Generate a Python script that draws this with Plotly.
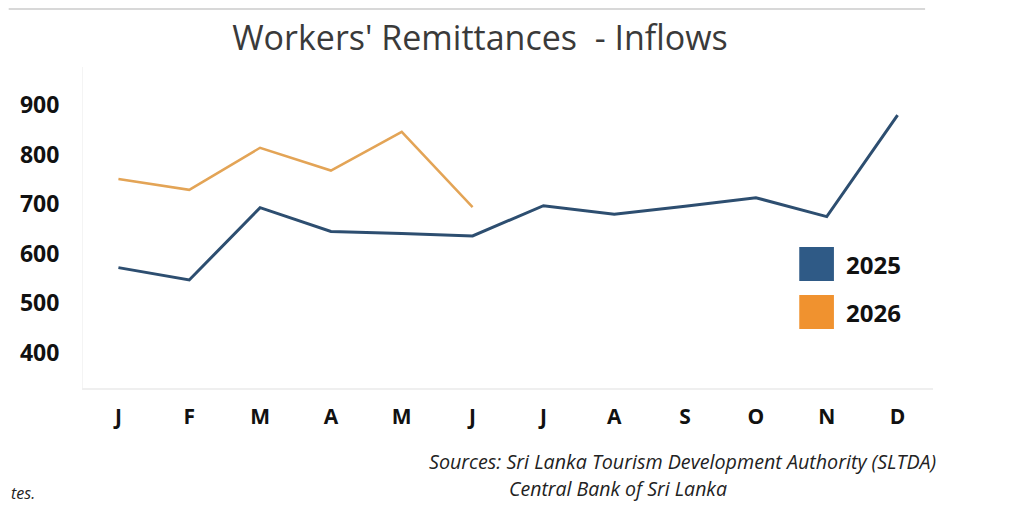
import plotly.graph_objects as go

# data
months = ['J', 'F', 'M', 'A', 'M ', 'J ', 'J  ', 'A ', 'S', 'O', 'N', 'D']
month_labels = ['J', 'F', 'M', 'A', 'M', 'J', 'J', 'A', 'S', 'O', 'N', 'D']
remit_2025 = [572, 547, 693, 645, 641, 636, 697, 680, 696, 713, 675, 880]
remit_2026 = [751, 729, 814, 768, 846, 694]
y_ticks = [400, 500, 600, 700, 800, 900]

blue = '#2d4e70'
orange = '#e3a456'

# page offset of the plot div (browser body margin)
OFF = 8
W, H = 1017, 511
L, R, T, B = 75 - OFF, W - (933 - OFF), 67 - OFF, H - (388 - OFF)
PW, PH = W - L - R, H - T - B


def px(x):
    return (x - OFF - L) / PW


def py(y):
    return (H - B - (y - OFF)) / PH


fig = go.Figure()
fig.add_trace(go.Scatter(x=months, y=remit_2025, mode='lines', name='2025',
                         line=dict(color=blue, width=3)))
fig.add_trace(go.Scatter(x=months[:len(remit_2026)], y=remit_2026, mode='lines', name='2026',
                         line=dict(color=orange, width=2.5)))

fig.update_layout(
    width=W, height=H,
    margin=dict(l=L, r=R, t=T, b=B),
    paper_bgcolor='white', plot_bgcolor='white',
    showlegend=False,
    font=dict(family='Open Sans', color='#111111'),
    title=dict(text="Workers' Remittances  - Inflows", x=(480 - OFF) / W, xanchor='center',
               y=1 - (38 - OFF) / H, yanchor='middle',
               font=dict(family='Open Sans', size=34, color='#3a3a3a')),
    xaxis=dict(type='category', categoryorder='array', categoryarray=months,
               tickvals=months, ticktext=['<b>%s</b>' % m for m in month_labels],
               range=[-0.5, 11.5], showgrid=False, zeroline=False,
               showline=True, linecolor='#efefef', linewidth=2,
               ticks='', ticklabelstandoff=9,
               tickfont=dict(size=21, color='#111111')),
    yaxis=dict(range=[329, 977], tickvals=y_ticks,
               ticktext=['<b>%d</b>' % v for v in y_ticks],
               showgrid=False, zeroline=False,
               showline=True, linecolor='#f4f4f4', linewidth=1,
               ticks='', ticklabelstandoff=18,
               tickfont=dict(size=23, color='#111111')),
)

# legend drawn as coloured squares with labels
for name, col, yc in [('2025', '#2f5a86', 264), ('2026', '#f0922f', 312)]:
    fig.add_shape(type='rect', xref='paper', yref='paper',
                  x0=px(798), x1=px(833), y0=py(yc + 17), y1=py(yc - 17),
                  fillcolor=col, line=dict(width=0))
    fig.add_annotation(text='<b>%s</b>' % name, xref='paper', yref='paper',
                       x=px(843), y=py(yc),
                       xanchor='left', yanchor='middle', showarrow=False,
                       font=dict(size=24, color='#111111'))

# thin border line at the top of the picture
fig.add_shape(type='line', xref='paper', yref='paper',
              x0=px(0), x1=px(925), y0=py(OFF + 1), y1=py(OFF + 1),
              line=dict(color='#d8d8d8', width=2))

fig.add_annotation(text='<i>Sources: Sri Lanka Tourism Development Authority (SLTDA)</i>',
                   xref='paper', yref='paper', x=px(938), y=py(461),
                   xanchor='right', yanchor='middle', showarrow=False,
                   font=dict(size=19.7, color='#222222'))
fig.add_annotation(text='<i>Central Bank of Sri Lanka</i>',
                   xref='paper', yref='paper', x=px(615), y=py(488),
                   xanchor='center', yanchor='middle', showarrow=False,
                   font=dict(size=19.5, color='#222222'))
fig.add_annotation(text='<i>tes.</i>', xref='paper', yref='paper',
                   x=px(OFF - 8), y=py(493),
                   xanchor='left', yanchor='middle', showarrow=False,
                   font=dict(size=16, color='#222222'))

fig.write_html('out.html')
